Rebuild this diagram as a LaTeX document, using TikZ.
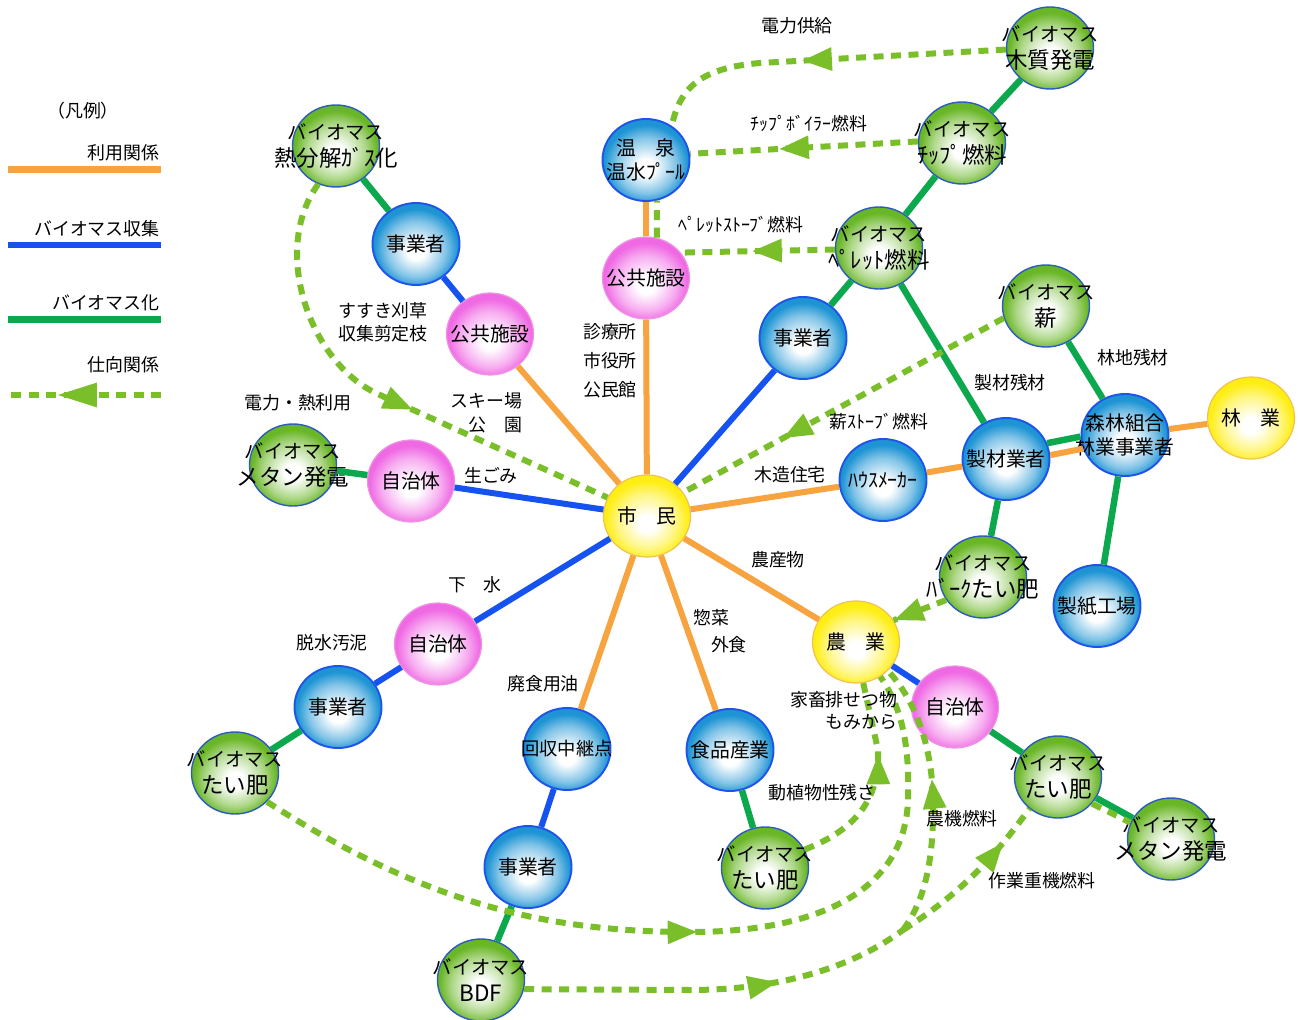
\documentclass[tikz,border=0pt]{standalone}
\usepackage{fontspec}
\setmainfont{Noto Sans CJK JP}
\usetikzlibrary{arrows.meta,decorations.markings,shapes.geometric}

\definecolor{orng}{RGB}{247,163,64}
\definecolor{blu}{RGB}{22,82,240}
\definecolor{grn}{RGB}{12,168,78}
\definecolor{flw}{RGB}{122,190,42}
\definecolor{yedge}{RGB}{255,238,20}
\definecolor{ybd}{RGB}{240,195,80}
\definecolor{medge}{RGB}{240,105,228}
\definecolor{mbd}{RGB}{236,150,226}
\definecolor{bedge}{RGB}{30,148,212}
\definecolor{bbd}{RGB}{30,85,232}
\definecolor{gedge}{RGB}{105,182,38}
\definecolor{gbd}{RGB}{45,92,192}

\pgfdeclareradialshading{ysh}{\pgfpoint{0bp}{-5bp}}{color(0bp)=(white); color(5bp)=(white); color(17bp)=(yedge!55!white); color(24bp)=(yedge); color(50bp)=(yedge)}
\pgfdeclareradialshading{msh}{\pgfpoint{0bp}{-5bp}}{color(0bp)=(white); color(5bp)=(white); color(17bp)=(medge!55!white); color(24bp)=(medge); color(50bp)=(medge)}
\pgfdeclareradialshading{bsh}{\pgfpoint{0bp}{-5bp}}{color(0bp)=(white); color(5bp)=(white); color(17bp)=(bedge!55!white); color(24bp)=(bedge); color(50bp)=(bedge)}
\pgfdeclareradialshading{gsh}{\pgfpoint{0bp}{-5bp}}{color(0bp)=(white); color(5bp)=(white); color(17bp)=(gedge!55!white); color(24bp)=(gedge); color(50bp)=(gedge)}

\tikzset{
  kyu/.style={ellipse,minimum width=1.74cm,minimum height=1.64cm,inner sep=0pt},
  ynode/.style={kyu,shading=ysh,draw=ybd,line width=.7pt},
  mnode/.style={kyu,shading=msh,draw=mbd,line width=.7pt},
  bnode/.style={kyu,shading=bsh,draw=bbd,line width=1.1pt},
  gnode/.style={kyu,shading=gsh,draw=gbd,line width=.8pt},
  nt/.style={font=\fontsize{11.3}{13.5}\selectfont,align=center,inner sep=0pt},
  txt/.style={label={[nt]center:{#1}}},
  gtxt/.style={label={[nt,font=\fontsize{11}{15.3}\selectfont]center:{バイオマス\\{\fontsize{12.8}{15.3}\selectfont #1}}}},
  el/.style={font=\fontsize{10.2}{13}\selectfont,align=center,inner sep=0pt},
  riyo/.style={orng,line width=.12cm},
  shushu/.style={blu,line width=.12cm},
  bioka/.style={grn,line width=.13cm},
  shimukesen/.style={flw,line width=.12cm,dash pattern=on .2cm off .15cm},
  shimuke/.style={shimukesen,postaction={decorate},
    decoration={markings,mark=at position #1 with {\arrow{Triangle[length=.6cm,width=.44cm]}}}},
  hanrei/.style={shimukesen,postaction={decorate},
    decoration={markings,mark=at position #1 with {\arrow{Triangle[length=.8cm,width=.46cm]}}}},
}

\begin{document}
\begin{tikzpicture}[x=0.02cm,y=-0.02cm]
\useasboundingbox (0,0) rectangle (1298,1020);

% legend
\node[el] (lg0) at (83,111) {（凡例）};
\node[el,anchor=east] (lg1) at (160,153) {利用関係};
\draw[riyo,line width=.14cm] (8,169.5) -- (161,169.5);
\node[el,anchor=east] (lg2) at (160,229) {バイオマス収集};
\draw[shushu] (8,245) -- (161,245);
\node[el,anchor=east] (lg3) at (160,303) {バイオマス化};
\draw[bioka] (8,319.5) -- (161,319.5);
\node[el,anchor=east] (lg4) at (160,365) {仕向関係};
\draw[hanrei=.68] (161,395) -- (8,395);

% nodes
\node[ynode,txt={市　民}] (shimin) at (647,516) {};
\node[mnode,txt=公共施設] (kou1) at (646,278) {};
\node[bnode,txt={温　泉\\温水ﾌﾟｰﾙ}] (onsen) at (646,160) {};
\node[mnode,txt=公共施設] (kou2) at (490,334) {};
\node[bnode,txt=事業者] (jig1) at (416,244) {};
\node[gnode,gtxt=熱分解ｶﾞｽ化] (netsu) at (336,146) {};
\node[mnode,txt=自治体] (jichi1) at (411,481) {};
\node[gnode,gtxt=メタン発電] (metan1) at (293,465) {};
\node[bnode,txt=事業者] (jig2) at (803,338) {};
\node[gnode,gtxt=ﾍﾟﾚｯﾄ燃料] (pellet) at (879,248) {};
\node[gnode,gtxt=ﾁｯﾌﾟ燃料] (chip) at (962,143) {};
\node[gnode,gtxt=木質発電] (moku) at (1050,48) {};
\node[gnode,gtxt=薪] (maki) at (1046,306) {};
\node[bnode,txt=ﾊｳｽﾒｰｶｰ] (house) at (883,480) {};
\node[bnode,txt=製材業者] (seizai) at (1006,459) {};
\node[bnode,txt={森林組合\\林業事業者}] (shinrin) at (1125,435) {};
\node[ynode,txt={林　業}] (ringyo) at (1251,418) {};
\node[gnode,gtxt=ﾊﾞｰｸたい肥] (bark) at (983,577) {};
\node[bnode,txt=製紙工場] (seishi) at (1097,606) {};
\node[ynode,txt={農　業}] (nogyo) at (856,642) {};
\node[mnode,txt=自治体] (jichi3) at (955,707) {};
\node[gnode,gtxt=たい肥] (taihi3) at (1058,777) {};
\node[gnode,gtxt=メタン発電] (metan2) at (1171,839) {};
\node[bnode,txt=食品産業] (shokuhin) at (730,750) {};
\node[gnode,gtxt=たい肥] (taihi2) at (765,868) {};
\node[bnode,txt={\fontsize{10.4}{13}\selectfont 回収中継点}] (kaishu) at (567,749) {};
\node[bnode,txt=事業者] (jig4) at (528,867) {};
\node[gnode,gtxt=BDF] (bdf) at (481,980) {};
\node[mnode,txt=自治体] (jichi2) at (438,644) {};
\node[bnode,txt=事業者] (jig3) at (338,707) {};
\node[gnode,gtxt=たい肥] (taihi1) at (235,773) {};
\coordinate (fork) at (903,930);

% 利用関係
\draw[riyo] (shimin) -- (kou1);
\draw[riyo] (kou1) -- (onsen);
\draw[riyo] (shimin) -- (kou2);
\draw[riyo] (shimin) -- (house);
\draw[riyo] (house) -- (seizai);
\draw[riyo] (seizai.5) -- (shinrin.198);
\draw[riyo] (shinrin) -- (ringyo);
\draw[riyo] (shimin) -- (nogyo);
\draw[riyo] (shimin) -- (shokuhin);
\draw[riyo] (shimin) -- (kaishu);

% バイオマス収集
\draw[shushu] (shimin) -- (jig2);
\draw[shushu] (shimin) -- (jichi1);
\draw[shushu] (shimin) -- (jichi2);
\draw[shushu] (kou2) -- (jig1);
\draw[shushu] (jichi2) -- (jig3);
\draw[shushu] (kaishu) -- (jig4);
\draw[shushu] (nogyo) -- (jichi3);

% バイオマス化
\draw[bioka] (jig1) -- (netsu);
\draw[bioka] (jichi1) -- (metan1);
\draw[bioka] (jig2) -- (pellet);
\draw[bioka] (pellet) -- (chip);
\draw[bioka] (chip) -- (moku);
\draw[bioka] (pellet) -- (seizai);
\draw[bioka] (maki) -- (shinrin);
\draw[bioka] (seizai.21) -- (shinrin.182);
\draw[bioka] (seizai) -- (bark);
\draw[bioka] (shinrin) -- (seishi);
\draw[bioka] (jig3) -- (taihi1);
\draw[bioka] (jig4) -- (bdf);
\draw[bioka] (shokuhin) -- (taihi2);
\draw[bioka] (jichi3) -- (taihi3);
\draw[bioka] (taihi3) -- (metan2);

% 仕向関係
\draw[shimuke=.56] (moku.182) -- (760,63) .. controls (700,68) and (680,88) .. (onsen.53);
\draw[shimuke=.61] (chip.178) -- (onsen.8);
\draw[shimuke=.54] (pellet.182) -- (kou1.36);
\draw[shimukesen] (kou1.75) -- (onsen.285);
\draw[shimuke=.57] (netsu.245) .. controls (270,250) and (310,365) .. (380,395) -- (shimin.155);
\draw[shimuke=.69] (maki.196) -- (shimin.33);
\draw[shimuke=1] (bark.212) -- (nogyo.30);
\draw[shimuke=.64] (taihi2.25) .. controls (855,830) and (880,800) .. (878,750) -- (nogyo.280);
\draw[shimuke=.53] (taihi1.318) .. controls (420,900) and (540,932) .. (690,932)
  .. controls (820,932) and (905,890) .. (908,800) .. controls (910,740) and (900,705) .. (nogyo.305);
\draw[shimuke=.65] (bdf.-12) -- (690,990) .. controls (790,990) and (860,962) .. (fork);
\draw[shimuke=.57] (fork) .. controls (925,900) and (934,860) .. (933,800) .. controls (932,745) and (915,700) .. (nogyo.318);
\draw[shimuke=.76] (fork) .. controls (950,900) and (985,870) .. (taihi3.228);
\draw[shimukesen] (taihi3.-38) -- (metan2.158);

% labels
\node[el] (t1) at (797,26) {電力供給};
\node[el] (t2) at (809,124) {ﾁｯﾌﾟﾎﾞｲﾗｰ燃料};
\node[el] (t3) at (741,225) {ﾍﾟﾚｯﾄｽﾄｰﾌﾞ燃料};
\node[el] (t4) at (383,322) {すすき刈草\\収集剪定枝};
\node[el] (t5) at (298,403) {電力・熱利用};
\node[el,align=right,anchor=east,font=\fontsize{10.2}{13.6}\selectfont] (t6) at (523,413) {スキー場\\公　園};
\node[el,font=\fontsize{10.2}{16.4}\selectfont] (t7) at (610,361) {診療所\\市役所\\公民館};
\node[el] (t8) at (491,475) {生ごみ};
\node[el] (t9) at (790,475) {木造住宅};
\node[el] (t10) at (879,422) {薪ｽﾄｰﾌﾞ燃料};
\node[el] (t11) at (1010,383) {製材残材};
\node[el] (t12) at (1133,358) {林地残材};
\node[el] (t13) at (778,560) {農産物};
\node[el,align=left,font=\fontsize{10.2}{15.3}\selectfont] (t14) at (720,631) {惣菜\\\hspace{1em}外食};
\node[el] (t15) at (475,585) {下　水};
\node[el] (t16) at (332,643) {脱水汚泥};
\node[el] (t17) at (543,684) {廃食用油};
\node[el,align=right,anchor=east,font=\fontsize{10.2}{12.5}\selectfont] (t18) at (898,711) {家畜排せつ物\\もみから};
\node[el] (t19) at (822,793) {動植物性残さ};
\node[el] (t20) at (962,819) {農機燃料};
\node[el] (t21) at (1042,881) {作業重機燃料};
\end{tikzpicture}
\end{document}
